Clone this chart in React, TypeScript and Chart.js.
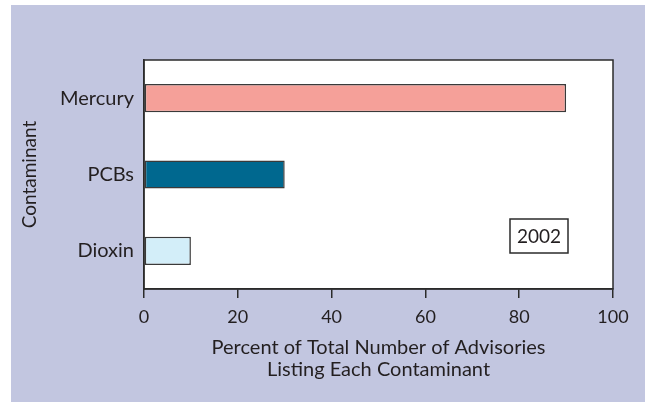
import React, { useEffect, useRef } from "react";
import { Chart, registerables } from "chart.js";

Chart.register(...registerables);

const categories = ["Mercury", "PCBs", "Dioxin"];
const percents = [90, 30, 10];
const barColors = ["#f5a099", "#00688f", "#d3eef9"];
const xTickValues = [0, 20, 40, 60, 80, 100];
const xTitle = ["Percent of Total Number of Advisories", "Listing Each Contaminant"];
const yTitle = "Contaminant";
const yearLabel = "2002";

const FONT = "Lato, 'Open Sans', sans-serif";
const TEXT = "#231f20";

const framePlugin = {
  id: "frame",
  beforeDraw(chart: any) {
    const { ctx, chartArea: a } = chart;
    ctx.save();
    ctx.fillStyle = "#ffffff";
    ctx.fillRect(a.left, a.top, a.right - a.left, a.bottom - a.top);
    ctx.restore();
  },
  afterDraw(chart: any) {
    const { ctx, chartArea: a } = chart;
    ctx.save();
    ctx.strokeStyle = "#2b2b2b";
    ctx.lineWidth = 1.5;
    ctx.strokeRect(a.left, a.top, a.right - a.left, a.bottom - a.top);
    // year box
    const w = 58, h = 34;
    const x = a.right - 45 - w;
    const y = a.bottom - 36 - h;
    ctx.fillStyle = "#ffffff";
    ctx.fillRect(x, y, w, h);
    ctx.strokeStyle = "#2b2b2b";
    ctx.lineWidth = 1.5;
    ctx.strokeRect(x, y, w, h);
    ctx.fillStyle = TEXT;
    ctx.font = `19px ${FONT}`;
    ctx.textAlign = "center";
    ctx.textBaseline = "middle";
    ctx.fillText(yearLabel, x + w / 2, y + h / 2 + 1);
    ctx.restore();
  },
};

export default function App() {
  const ref = useRef<HTMLCanvasElement>(null);
  useEffect(() => {
    if (!ref.current) return;
    const chart = new Chart(ref.current, {
      type: "bar",
      data: {
        labels: categories,
        datasets: [
          {
            data: percents,
            backgroundColor: barColors,
            borderColor: "#3a3a3a",
            borderWidth: 1.5,
            borderSkipped: false,
            barPercentage: 0.37,
            categoryPercentage: 1,
          },
        ],
      },
      options: {
        indexAxis: "y",
        animation: false,
        responsive: false,
        maintainAspectRatio: false,
        layout: { padding: { left: 0, right: 32, top: 55, bottom: 0 } },
        plugins: { legend: { display: false }, tooltip: { enabled: false } },
        scales: {
          x: {
            type: "linear",
            min: 0,
            max: 100,
            afterBuildTicks: (axis: any) => {
              axis.ticks = xTickValues.map((v) => ({ value: v }));
            },
            afterFit: (axis: any) => {
              axis.height = 113;
            },
            grid: {
              display: true,
              drawOnChartArea: false,
              drawTicks: true,
              tickLength: 9,
              color: "#2b2b2b",
              lineWidth: 1.5,
            },
            border: { display: true, color: "#2b2b2b", width: 1.5 },
            ticks: {
              color: TEXT,
              padding: 8,
              maxRotation: 0,
              font: { family: FONT, size: 18 },
            },
            title: {
              display: true,
              text: xTitle,
              color: TEXT,
              font: { family: FONT, size: 20, lineHeight: 22 / 20 },
              padding: { top: 0, bottom: 21 },
            },
          },
          y: {
            afterFit: (axis: any) => {
              axis.width = 133;
            },
            grid: { display: false, drawTicks: false },
            border: { display: true, color: "#2b2b2b", width: 1.5 },
            ticks: {
              color: TEXT,
              padding: 10,
              font: { family: FONT, size: 20 },
            },
            title: {
              display: true,
              text: yTitle,
              color: TEXT,
              font: { family: FONT, size: 19, lineHeight: 22 / 19 },
              padding: { top: 8, bottom: 0 },
            },
          },
        },
      },
      plugins: [framePlugin],
    } as any);
    return () => chart.destroy();
  }, []);

  return (
    <div style={{ position: "fixed", left: 0, top: 0, width: 645, height: 402, background: "#ffffff" }}>
      <div style={{ position: "absolute", left: 11, top: 5, width: 634, height: 397, background: "#c2c6e0" }}>
        <canvas ref={ref} width={634} height={397} style={{ display: "block", width: 634, height: 397 }} />
      </div>
    </div>
  );
}
